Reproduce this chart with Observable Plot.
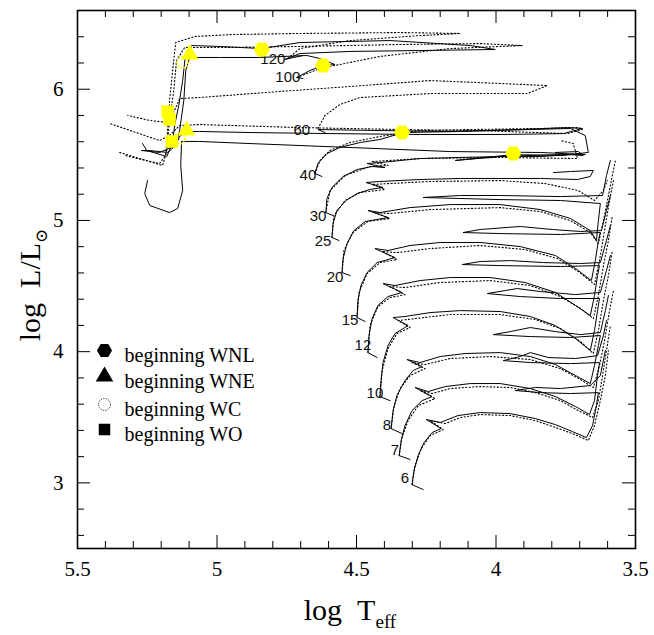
<!DOCTYPE html>
<html><head><meta charset="utf-8">
<script src="https://cdn.jsdelivr.net/npm/d3@7"></script>
<script src="https://cdn.jsdelivr.net/npm/@observablehq/plot@0.6"></script>
<style>body{margin:0;background:#fff;} #chart{width:654px;height:635px;}</style>
</head><body><div id="chart"></div>
<script>
// ---- rotating models (solid), [log Teff, log L] ----
const s6 = [[4.261,2.949],[4.301,2.987],[4.294,3.094],[4.279,3.208],[4.258,3.307],[4.229,3.384],[4.197,3.414],[4.250,3.483],[4.200,3.460],[4.136,3.513],[4.057,3.536],[3.949,3.528],[3.859,3.490],[3.787,3.444],[3.726,3.391],[3.676,3.345],[3.654,3.437],[3.640,3.589],[3.633,3.688],[3.733,3.681],[3.841,3.688],[3.931,3.704],[3.859,3.727],[3.769,3.719],[3.662,3.742],[3.626,3.818],[3.608,4.009]];
const s7 = [[4.308,3.178],[4.347,3.208],[4.340,3.323],[4.326,3.437],[4.301,3.551],[4.265,3.627],[4.229,3.658],[4.290,3.727],[4.243,3.696],[4.182,3.734],[4.092,3.757],[3.985,3.757],[3.877,3.719],[3.787,3.658],[3.715,3.582],[3.665,3.521],[3.647,3.627],[3.636,3.818],[3.629,3.917],[3.733,3.909],[3.877,3.917],[3.974,3.932],[3.913,3.963],[3.877,3.993],[3.812,3.955],[3.715,3.948],[3.636,3.970],[3.615,4.123],[3.604,4.237]];
const s8 = [[4.337,3.376],[4.376,3.414],[4.369,3.551],[4.355,3.666],[4.326,3.780],[4.297,3.856],[4.265,3.887],[4.319,3.940],[4.272,3.917],[4.200,3.963],[4.110,3.986],[3.985,3.993],[3.877,3.963],[3.787,3.902],[3.715,3.818],[3.662,3.757],[3.647,3.894],[3.633,4.047],[3.626,4.123],[3.733,4.108],[3.877,4.115],[4.010,4.130],[3.949,4.153],[3.877,4.184],[3.787,4.153],[3.697,4.130],[3.626,4.146],[3.608,4.313],[3.597,4.428]];
const s10 = [[4.380,3.627],[4.416,3.658],[4.412,3.780],[4.405,3.917],[4.387,4.047],[4.362,4.138],[4.315,4.199],[4.369,4.260],[4.326,4.268],[4.236,4.298],[4.128,4.313],[3.985,4.306],[3.877,4.268],[3.787,4.199],[3.715,4.100],[3.662,4.009],[3.647,4.161],[3.636,4.313],[3.629,4.405],[3.769,4.405],[3.913,4.420],[4.031,4.443],[3.967,4.466],[3.924,4.481],[3.841,4.458],[3.715,4.435],[3.626,4.451],[3.604,4.618],[3.590,4.733]];
const s12 = [[4.426,3.955],[4.459,3.993],[4.455,4.123],[4.444,4.252],[4.423,4.352],[4.387,4.420],[4.337,4.451],[4.405,4.519],[4.362,4.504],[4.272,4.542],[4.164,4.565],[4.021,4.565],[3.895,4.527],[3.787,4.451],[3.715,4.352],[3.662,4.275],[3.647,4.428],[3.636,4.580],[3.629,4.656],[3.769,4.649],[3.985,4.656],[4.121,4.664],[4.057,4.687],[3.949,4.694],[3.830,4.679],[3.697,4.672],[3.626,4.679],[3.604,4.847],[3.590,4.961]];
const s15 = [[4.469,4.230],[4.498,4.260],[4.495,4.390],[4.484,4.504],[4.462,4.603],[4.426,4.679],[4.362,4.717],[4.434,4.786],[4.387,4.771],[4.308,4.809],[4.200,4.832],[4.057,4.832],[3.913,4.801],[3.787,4.733],[3.715,4.634],[3.658,4.542],[3.644,4.694],[3.633,4.847],[3.626,4.908],[3.769,4.893],[3.985,4.900],[4.118,4.908],[4.057,4.931],[3.913,4.954],[3.798,4.931],[3.697,4.916],[3.622,4.923],[3.604,5.076],[3.590,5.190]];
const s20 = [[4.523,4.580],[4.552,4.603],[4.548,4.710],[4.534,4.824],[4.509,4.923],[4.469,4.992],[4.387,5.022],[4.459,5.076],[4.416,5.060],[4.308,5.098],[4.164,5.121],[3.985,5.121],[3.841,5.083],[3.733,5.015],[3.662,4.923],[3.640,4.847],[3.633,4.999],[3.626,5.129],[3.769,5.152],[3.985,5.159],[4.261,5.175],[4.128,5.190],[3.985,5.190],[3.769,5.182],[3.618,5.190],[3.604,5.342],[3.590,5.457]];
const s25 = [[4.563,4.847],[4.588,4.870],[4.584,4.977],[4.570,5.076],[4.538,5.152],[4.498,5.205],[4.452,5.236],[4.405,5.251],[4.466,5.289],[4.416,5.297],[4.272,5.312],[4.128,5.320],[3.985,5.320],[3.841,5.320],[3.708,5.312],[3.662,5.335],[3.651,5.381],[3.733,5.373],[3.794,5.365]];
const s30 = [[4.584,5.037],[4.610,5.060],[4.606,5.167],[4.588,5.251],[4.548,5.335],[4.498,5.388],[4.444,5.411],[4.398,5.403],[4.462,5.434],[4.416,5.441],[4.272,5.472],[4.128,5.480],[3.985,5.487],[3.841,5.487],[3.733,5.502],[3.687,5.495],[3.705,5.525],[3.787,5.518]];
const s40 = [[4.624,5.335],[4.649,5.358],[4.638,5.434],[4.606,5.510],[4.559,5.556],[4.487,5.594],[4.416,5.617],[4.355,5.655],[4.337,5.670],[4.128,5.678],[3.877,5.693],[3.733,5.701],[3.680,5.647],[3.669,5.518],[3.769,5.495],[3.938,5.502],[4.146,5.457],[3.985,5.487],[3.769,5.502],[3.680,5.502],[3.841,5.518],[4.164,5.525],[4.523,5.556],[4.882,5.586],[5.062,5.602],[5.127,5.602],[5.130,5.419],[5.123,5.228],[5.141,5.091],[5.170,5.060],[5.241,5.114],[5.259,5.205],[5.249,5.304]];
const s60 = [[4.613,5.670],[4.638,5.693],[4.416,5.685],[4.164,5.678],[3.913,5.693],[3.744,5.708],[3.690,5.701],[3.758,5.662],[3.985,5.655],[4.272,5.655],[4.595,5.662],[4.882,5.670],[5.062,5.678],[5.109,5.678],[5.134,5.640],[5.148,5.571],[5.177,5.518],[5.241,5.533],[5.270,5.533]];
const s100 = [[4.692,6.082],[4.714,6.089],[4.667,6.143],[4.620,6.181],[4.577,6.188],[4.631,6.234],[4.678,6.257],[4.847,6.242],[4.990,6.242],[5.098,6.242],[5.112,6.143],[5.119,5.914],[5.134,5.685],[5.148,5.571],[5.206,5.518],[5.270,5.533]];
const s120 = [[4.692,6.257],[4.757,6.227],[4.703,6.272],[4.523,6.288],[4.272,6.295],[4.003,6.303],[4.092,6.333],[4.380,6.371],[4.703,6.356],[4.839,6.310],[4.990,6.326],[5.091,6.333],[5.112,6.280],[5.123,6.066],[5.137,5.876],[5.152,5.723],[5.159,5.594],[5.180,5.487],[5.252,5.533],[5.267,5.586]];

// ---- non-rotating models (dotted) ----
const d6 = [[4.301,2.987],[4.290,3.132],[4.268,3.262],[4.236,3.361],[4.189,3.406],[4.236,3.475],[4.182,3.452],[4.128,3.498],[4.057,3.521],[3.949,3.513],[3.859,3.475],[3.787,3.422],[3.726,3.376],[3.669,3.323],[3.647,3.437],[3.626,3.627],[3.608,3.818],[3.597,4.009]];
const d7 = [[4.347,3.208],[4.337,3.345],[4.315,3.475],[4.279,3.589],[4.218,3.643],[4.272,3.704],[4.229,3.681],[4.164,3.719],[4.057,3.734],[3.949,3.727],[3.859,3.688],[3.769,3.627],[3.705,3.551],[3.654,3.498],[3.633,3.627],[3.618,3.818],[3.604,4.009],[3.590,4.199]];
const d8 = [[4.376,3.414],[4.365,3.589],[4.344,3.719],[4.308,3.818],[4.254,3.871],[4.301,3.917],[4.254,3.902],[4.164,3.948],[4.021,3.963],[3.877,3.940],[3.769,3.871],[3.697,3.787],[3.651,3.727],[3.629,3.894],[3.611,4.085],[3.593,4.313],[3.579,4.466]];
const d10 = [[4.416,3.658],[4.408,3.856],[4.387,4.024],[4.355,4.138],[4.308,4.184],[4.351,4.237],[4.290,4.252],[4.164,4.283],[3.985,4.283],[3.859,4.245],[3.769,4.176],[3.697,4.077],[3.651,3.986],[3.633,4.161],[3.615,4.390],[3.597,4.580],[3.583,4.771]];
const d12 = [[4.459,3.993],[4.452,4.199],[4.423,4.344],[4.380,4.412],[4.326,4.435],[4.380,4.496],[4.326,4.489],[4.200,4.527],[4.021,4.542],[3.877,4.504],[3.769,4.420],[3.697,4.329],[3.651,4.252],[3.633,4.428],[3.615,4.656],[3.597,4.847],[3.583,5.037]];
const d15 = [[4.498,4.260],[4.491,4.451],[4.462,4.595],[4.416,4.679],[4.355,4.702],[4.408,4.763],[4.355,4.755],[4.236,4.786],[4.057,4.809],[3.895,4.778],[3.780,4.710],[3.705,4.611],[3.647,4.512],[3.629,4.694],[3.611,4.923],[3.593,5.152],[3.579,5.304]];
const d20 = [[4.552,4.603],[4.545,4.771],[4.513,4.908],[4.459,4.992],[4.380,5.015],[4.434,5.060],[4.380,5.053],[4.236,5.083],[3.985,5.098],[3.841,5.068],[3.733,4.999],[3.662,4.908],[3.633,4.824],[3.615,4.999],[3.597,5.190],[3.583,5.342],[3.572,5.457]];
const d25 = [[4.588,4.870],[4.581,5.037],[4.541,5.152],[4.487,5.213],[4.398,5.236],[4.444,5.274],[4.387,5.281],[4.236,5.297],[3.985,5.304],[3.823,5.281],[3.705,5.228],[3.647,5.152],[3.615,5.228],[3.601,5.304]];
const d30 = [[4.610,5.060],[4.595,5.228],[4.541,5.342],[4.452,5.411],[4.387,5.419],[4.444,5.449],[4.272,5.472],[3.985,5.480],[3.708,5.472],[3.723,5.586],[3.769,5.609]];
const d40 = [[4.649,5.358],[4.631,5.457],[4.595,5.533],[4.523,5.594],[4.416,5.640],[4.272,5.685],[4.092,5.693],[3.841,5.701],[3.705,5.708],[3.690,5.693],[3.744,5.662],[4.057,5.685],[4.344,5.693],[4.703,5.708],[5.062,5.731],[5.134,5.723],[5.170,5.647],[5.206,5.609],[5.385,5.739]];
const d60 = [[4.638,5.701],[4.613,5.800],[4.559,5.884],[4.487,5.937],[4.236,5.967],[3.985,5.967],[3.888,5.967],[3.816,6.028],[3.985,6.044],[4.236,6.066],[4.523,6.021],[4.775,5.983],[5.062,5.937],[5.134,5.929],[5.152,5.838],[5.177,5.747],[5.241,5.762],[5.320,5.800]];
const d100 = [[4.714,6.089],[4.631,6.158],[4.416,6.250],[4.164,6.310],[3.906,6.333],[4.057,6.348],[4.344,6.341],[4.703,6.326],[4.990,6.318],[5.116,6.318],[5.145,6.219],[5.155,5.990],[5.170,5.762],[5.180,5.533],[5.195,5.419],[5.349,5.518]];
const d120 = [[4.746,6.234],[4.703,6.310],[4.523,6.371],[4.272,6.409],[4.128,6.425],[4.344,6.432],[4.703,6.425],[4.943,6.417],[5.080,6.402],[5.148,6.356],[5.159,6.143],[5.170,5.914],[5.177,5.685],[5.184,5.495],[5.206,5.434],[5.331,5.495]];

// ---- mass labels ----
const massLabels = ["120","100","60","40","30","25","20","15","12","10","8","7","6"];
const massLabelT = [4.800,4.746,4.696,4.674,4.638,4.620,4.577,4.523,4.477,4.434,4.391,4.362,4.326];
const massLabelL = [6.227,6.089,5.685,5.342,5.030,4.839,4.565,4.237,4.047,3.681,3.437,3.246,3.033];

// ---- WR phase entry points ----
const wnl = [[4.839,6.303],[4.620,6.181],[4.337,5.670],[3.938,5.510]];
const wne = [[5.098,6.265],[5.109,5.685]];
const wc  = [[5.123,6.204],[5.134,5.624]];
const wo  = [[5.177,5.830],[5.170,5.769],[5.162,5.602]];

// ---- legend ----
const legendLabels = ["beginning WNL","beginning WNE","beginning WC","beginning WO"];
const legendSymbols = ["hexagon","triangle","wc","square"];

// ---- ticks ----
const xLabelTicks = [5.5,5,4.5,4,3.5];
const xMajorTicks = [5,4.5,4];
const xMinorTicks = [5.4,5.3,5.2,5.1,4.9,4.8,4.7,4.6,4.4,4.3,4.2,4.1,3.9,3.8,3.7,3.6];
const yLabelTicks = [3,4,5,6];
const yMinorTicks = [2.6,2.8,3.2,3.4,3.6,3.8,4.2,4.4,4.6,4.8,5.2,5.4,5.6,5.8,6.2,6.4];

const solid = [s6,s7,s8,s10,s12,s15,s20,s25,s30,s40,s60,s100,s120];
const dotted = [d6,d7,d8,d10,d12,d15,d20,d25,d30,d40,d60,d100,d120];

const W = 654, H = 635, mL = 77, mR = 19, mT = 10, mB = 87;
const innerW = W - mL - mR, innerH = H - mT - mB;
const MAJ = 13, MIN = 7;
const serif = "'Liberation Serif','DejaVu Serif',serif";
const YEL = "#ffff00";

// flat-topped hexagon (pointy left/right)
const hexFlat = {
  draw(ctx, size) {
    const R = Math.sqrt(size / Math.PI) * 1.08;
    for (let i = 0; i < 6; i++) {
      const a = i * Math.PI / 3;
      const x = R * Math.cos(a), y = R * Math.sin(a);
      if (i === 0) ctx.moveTo(x, y); else ctx.lineTo(x, y);
    }
    ctx.closePath();
  }
};

const marks = [];
const px = d => d[0], py = d => d[1];
dotted.forEach(t => marks.push(Plot.line(t, {x: px, y: py, stroke: "black", strokeWidth: 1.1, strokeDasharray: "1.2,2.3", clip: true})));
solid.forEach(t => marks.push(Plot.line(t, {x: px, y: py, stroke: "black", strokeWidth: 1, clip: true})));

marks.push(Plot.text(massLabels, {x: (d,i) => massLabelT[i], y: (d,i) => massLabelL[i], text: d => d, fontSize: 15, fontFamily: "'Liberation Sans',Arial,sans-serif", fill: "#111"}));

marks.push(Plot.dot(wnl, {x: px, y: py, symbol: hexFlat, r: 7.5, fill: YEL}));
marks.push(Plot.dot(wne, {x: px, y: py, symbol: "triangle", r: 6.5, fill: YEL}));
marks.push(Plot.dot(wc, {x: px, y: py, symbol: "circle", r: 5.5, fill: "none", stroke: YEL, strokeWidth: 1.8, strokeDasharray: "1.5,1.5"}));
marks.push(Plot.dot(wo, {x: px, y: py, symbol: "square", r: 7, fill: YEL}));

// legend rows
const rowY = [340, 366, 394, 419];
legendLabels.forEach((lab, i) => {
  const sym = legendSymbols[i];
  if (sym === "wc") {
    marks.push(Plot.dot([lab], {frameAnchor: "top-left", dx: 27, dy: rowY[i], symbol: "circle", r: 6, fill: "none", stroke: "black", strokeWidth: 1, strokeDasharray: "1,1.4"}));
  } else if (sym === "hexagon") {
    marks.push(Plot.dot([lab], {frameAnchor: "top-left", dx: 27, dy: rowY[i], symbol: hexFlat, r: 7, fill: "black"}));
  } else {
    marks.push(Plot.dot([lab], {frameAnchor: "top-left", dx: 27, dy: rowY[i], symbol: sym, r: 6.5, fill: "black"}));
  }
  marks.push(Plot.text([lab], {frameAnchor: "top-left", dx: 47, dy: rowY[i] - 3, text: d => d, textAnchor: "start", fontSize: 20, fontFamily: serif, fill: "black", style: "letter-spacing:1px"}));
});

// inward ticks on all four sides
marks.push(Plot.tickX(xMajorTicks, {x: d => d, insetTop: innerH - MAJ, stroke: "black"}));
marks.push(Plot.tickX(xMajorTicks, {x: d => d, insetBottom: innerH - MAJ, stroke: "black"}));
marks.push(Plot.tickX(xMinorTicks, {x: d => d, insetTop: innerH - MIN, stroke: "black"}));
marks.push(Plot.tickX(xMinorTicks, {x: d => d, insetBottom: innerH - MIN, stroke: "black"}));
marks.push(Plot.tickY(yLabelTicks, {y: d => d, insetRight: innerW - MAJ, stroke: "black"}));
marks.push(Plot.tickY(yLabelTicks, {y: d => d, insetLeft: innerW - MAJ, stroke: "black"}));
marks.push(Plot.tickY(yMinorTicks, {y: d => d, insetRight: innerW - MIN, stroke: "black"}));
marks.push(Plot.tickY(yMinorTicks, {y: d => d, insetLeft: innerW - MIN, stroke: "black"}));

marks.push(Plot.axisX({ticks: xLabelTicks, tickSize: 0, tickPadding: 13, fontSize: 21, fontFamily: serif, tickFormat: d => String(d), label: null}));
marks.push(Plot.axisY({ticks: yLabelTicks, tickSize: 0, tickPadding: 14, fontSize: 21, fontFamily: serif, tickFormat: d => String(d), label: null}));
marks.push(Plot.frame({stroke: "black", strokeWidth: 1.6}));

const chart = Plot.plot({
  width: W, height: H,
  marginLeft: mL, marginRight: mR, marginTop: mT, marginBottom: mB,
  x: {domain: [5.5, 3.5], axis: null},
  y: {domain: [2.5, 6.6], axis: null},
  style: {background: "white", color: "black"},
  marks
});
document.getElementById("chart").appendChild(chart);

const svg = d3.select(chart);
const xt = svg.append("text").attr("x", 350).attr("y", 620).attr("text-anchor", "middle")
  .attr("font-family", serif).attr("font-size", 30).attr("fill", "black");
xt.append("tspan").text("log\u00a0\u00a0T");
xt.append("tspan").attr("font-size", 19).attr("dy", 8).text("eff");

const yt = svg.append("text").attr("transform", "translate(40,285) rotate(-90)").attr("text-anchor", "middle")
  .attr("font-family", serif).attr("font-size", 30).attr("fill", "black");
yt.append("tspan").text("log\u00a0\u00a0L/L");
yt.append("tspan").attr("font-size", 17).attr("dy", 7).attr("font-family", "'DejaVu Serif',serif").text("\u2299");
</script></body></html>
